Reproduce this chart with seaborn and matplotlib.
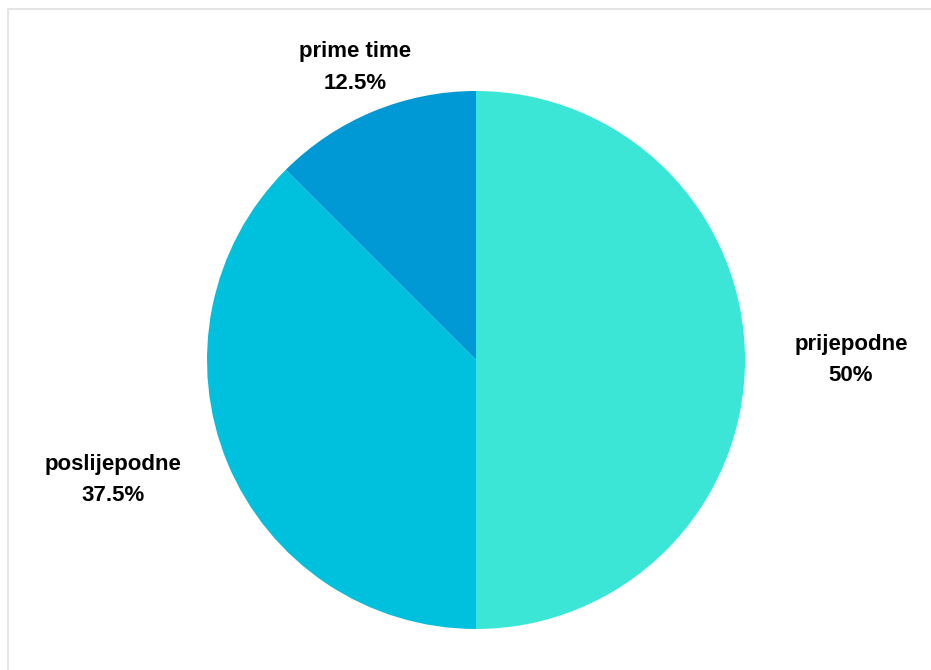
import numpy as np
import matplotlib
matplotlib.use("Agg")
from matplotlib import pyplot as plt
from matplotlib.patches import Rectangle
import seaborn as sns

sns.set_theme(style="white")
plt.rcParams['font.family'] = ['Liberation Sans', 'DejaVu Sans']

# data
labels = ['prijepodne', 'poslijepodne', 'prime time']
shares = [50, 37.5, 12.5]
colors = ['#3be6d6', '#00c1dd', '#0099d6']
# label placement around the pie: distance in radii, angle nudge in degrees
label_dist = [1.394, 1.421, 1.177]
label_nudge = [0, -4.2, 0]

W, H = 931, 670
fig = plt.figure(figsize=(W / 100, H / 100), dpi=100)

# pie centered at (476, 360) px with radius 269 px
r_px = 269
cx, cy = 476, 360
ax = fig.add_axes([(cx - r_px) / W, (H - cy - r_px) / H, 2 * r_px / W, 2 * r_px / H])

wedges, _ = ax.pie(shares, colors=colors, startangle=90, counterclock=False,
                   wedgeprops=dict(linewidth=0), radius=1)
ax.set_xlim(-1, 1)
ax.set_ylim(-1, 1)
ax.set_aspect('equal')
ax.axis('off')

for w, lab, val, d, nudge in zip(wedges, labels, shares, label_dist, label_nudge):
    ang = np.deg2rad((w.theta1 + w.theta2) / 2 + nudge)
    pct = ('%g' % val) + '%'
    ax.text(d * np.cos(ang), d * np.sin(ang), lab + '\n' + pct,
            ha='center', va='center', fontsize=16, fontweight='bold',
            color='black', linespacing=1.65)

# light frame at top and left like the source screenshot
fig.patches.append(Rectangle((8 / W, -0.5), 2, 1.5 - 9.5 / H, transform=fig.transFigure,
                             fill=False, edgecolor='#e4e4e4', linewidth=1.5))

fig.savefig('out.png', dpi=100)
